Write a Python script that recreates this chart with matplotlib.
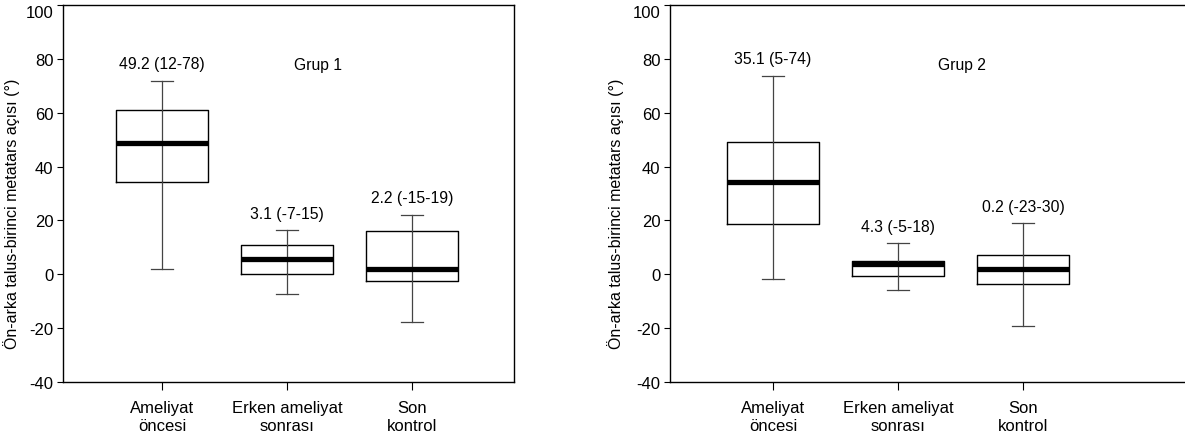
import matplotlib
matplotlib.use("Agg")
import matplotlib.pyplot as plt

plt.rcParams['font.family'] = ['Liberation Sans', 'DejaVu Sans']

# Kategoriler
kategoriler = ["Ameliyat\nöncesi", "Erken ameliyat\nsonrası", "Son\nkontrol"]
ylabel = "Ön-arka talus-birinci metatars açısı (°)"

# Grup 1 kutu değerleri
g1_q1 = [34.1, 0.0, -2.5]
g1_med = [48.9, 5.8, 1.9]
g1_q3 = [60.9, 10.7, 16.0]
g1_lo = [1.9, -7.3, -17.7]
g1_hi = [71.9, 16.3, 22.0]
g1_etiket = ["49.2 (12-78)", "3.1 (-7-15)", "2.2 (-15-19)"]
g1_etiket_y = [78.1, 22.4, 28.4]

# Grup 2 kutu değerleri
g2_q1 = [18.7, -0.6, -3.6]
g2_med = [34.2, 3.9, 1.9]
g2_q3 = [49.1, 5.1, 7.0]
g2_lo = [-1.9, -6.0, -19.2]
g2_hi = [73.8, 11.7, 19.2]
g2_etiket = ["35.1 (5-74)", "4.3 (-5-18)", "0.2 (-23-30)"]
g2_etiket_y = [80.3, 17.8, 25.0]

fig = plt.figure(figsize=(11.85, 4.39), dpi=100)
ax1 = fig.add_axes([63 / 1185, 56 / 439, 451 / 1185, 377 / 439])
ax2 = fig.add_axes([670 / 1185, 56 / 439, 527.5 / 1185, 377 / 439])


def ciz(ax, q1, med, q3, lo, hi, etiket, etiket_y, baslik, baslik_x, xlim, label_x):
    poz = [1, 2, 3]
    stats = []
    for i in range(3):
        stats.append({'med': med[i], 'q1': q1[i], 'q3': q3[i],
                      'whislo': lo[i], 'whishi': hi[i], 'fliers': []})
    # bıyık çizgisi kutunun içinden de geçiyor
    ax.vlines(poz, q1, q3, colors='#444444', linewidth=0.9, zorder=1)
    ax.bxp(stats, positions=poz, widths=0.74, showfliers=False,
           boxprops=dict(color='black', linewidth=1.0),
           whiskerprops=dict(color='#444444', linewidth=0.9),
           capprops=dict(color='#444444', linewidth=0.9),
           medianprops=dict(color='black', linewidth=3.8, solid_capstyle='butt'),
           capwidths=0.17)
    for i in range(3):
        ax.text(poz[i], etiket_y[i], etiket[i], ha='center', va='center', fontsize=11.3)
    ax.text(baslik_x, 78, baslik, ha='center', va='center', fontsize=11.3)
    ax.set_xlim(xlim)
    ax.set_ylim(-40, 100)
    ax.set_yticks([-40, -20, 0, 20, 40, 60, 80, 100])
    ax.set_yticklabels(['-40', '-20', '0', '20', '40', '60', '80', '100'])
    ax.set_xticks(poz)
    ax.set_xticklabels(kategoriler, fontsize=12, linespacing=1.25)
    ax.tick_params(axis='y', labelsize=12, length=4, width=0.8, direction='out', pad=3)
    ax.tick_params(axis='x', length=6, width=0.8, direction='out', pad=7)
    ax.yaxis.get_ticklabels()[-1].set_va('top')
    ax.set_ylabel(ylabel, fontsize=11.5)
    ax.yaxis.set_label_coords(label_x, 0.448)
    for s in ax.spines.values():
        s.set_linewidth(1.0)


ciz(ax1, g1_q1, g1_med, g1_q3, g1_lo, g1_hi, g1_etiket, g1_etiket_y, "Grup 1", 2.25, (0.208, 3.816), -0.0955)
ciz(ax2, g2_q1, g2_med, g2_q3, g2_lo, g2_hi, g2_etiket, g2_etiket_y, "Grup 2", 2.51, (0.176, 4.396), -0.087)

fig.savefig("out.png", dpi=100)
